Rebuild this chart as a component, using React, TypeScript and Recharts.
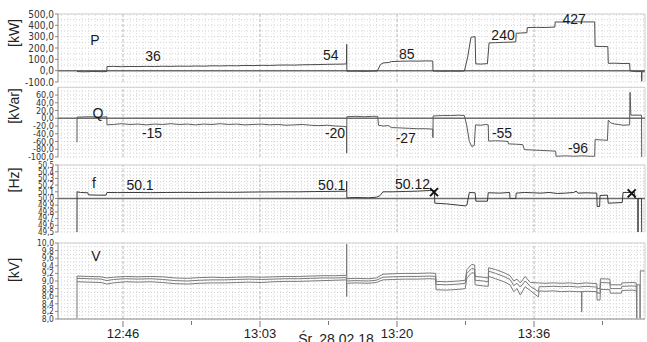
import React from 'react';
import { LineChart, Line, XAxis, YAxis, ReferenceLine, ReferenceDot } from 'recharts';

type Pt = [number, number];
type Note = [number, number, string];

// time axis in minutes since midnight
const T_MIN = 758.76;
const T_MAX = 830.17;
const timeTicks = [766.667, 775, 783.333, 791.667, 800, 808.333, 816.667, 825];
const timeLabels = ['12:46', '', '13:03', '', '13:20', '', '13:36', ''];
const dateLabel = 'Śr. 28.02.18';

const pTicks = [-100, 0, 100, 200, 300, 400, 500];
const qTicks = [-100, -80, -60, -40, -20, 0, 20, 40, 60];
const fTicks = [49.5, 49.6, 49.7, 49.8, 49.9, 50.0, 50.1, 50.2, 50.3, 50.4, 50.5];
const vTicks = [8.0, 8.2, 8.4, 8.6, 8.8, 9.0, 9.2, 9.4, 9.6, 9.8, 10.0];

// active power [kW]
const pSeries: Pt[] = [
  [761.07, -8], [762.0, -10], [763.0, -7], [764.0, -9], [764.7, -8], [764.72, 36], [765.5, 38], [766.5, 35],
  [767.5, 37], [768.5, 36], [769.5, 38], [770.5, 37], [771.5, 39], [772.5, 38], [773.5, 40], [774.5, 39],
  [775.5, 41], [776.5, 40], [777.5, 43], [778.5, 42], [779.5, 44], [780.5, 43], [781.5, 46], [782.5, 45],
  [783.5, 47], [784.5, 46], [785.5, 49], [786.5, 50], [787.5, 49], [788.5, 52], [789.5, 53], [790.5, 54],
  [791.5, 56], [792.5, 57], [793.5, 58], [793.85, 60], [793.88, 232], [793.9, -5], [795.0, -4], [796.0, -6],
  [797.0, -4], [797.6, -3], [798.0, 55], [798.3, 68], [799.0, 72], [799.3, 80], [800.4, 83], [801.5, 85],
  [802.5, 84], [803.5, 86], [804.35, 85], [804.38, -3], [805.5, -5], [806.5, -4], [807.5, -5], [808.2, -3],
  [808.6, 120], [809.0, 295], [809.5, 300], [809.58, 60], [810.2, 58], [811.0, 62], [811.2, 245], [812.0, 247],
  [813.0, 250], [814.0, 252], [814.45, 254], [814.5, 330], [815.0, 332], [815.8, 335], [815.85, 380], [817.0, 382],
  [818.0, 381], [819.2, 385], [819.25, 430], [820.5, 428], [822.0, 431], [823.0, 430], [824.05, 430], [824.1, 215],
  [825.0, 213], [825.65, 212], [825.7, 65], [826.5, 66], [827.5, 63], [828.3, 64], [828.35, -2], [829.0, -8],
  [829.75, -8], [829.77, -93], [829.8, -8], [830.1, -10],
];

// reactive power [kVar]
const qSeries: Pt[] = [
  [761.07, -62], [761.08, 3], [762.5, 4], [764.0, 3], [764.7, 4], [764.72, -17], [765.5, -16], [766.5, -14],
  [767.5, -16], [768.5, -15], [769.5, -17], [770.5, -15], [771.5, -16], [772.5, -14], [773.5, -16], [774.5, -15],
  [775.5, -17], [776.5, -15], [777.5, -16], [778.5, -14], [779.5, -16], [780.5, -15], [781.5, -17], [782.5, -16],
  [783.5, -15], [784.5, -17], [785.5, -16], [786.5, -18], [787.5, -17], [788.5, -16], [789.5, -18], [790.5, -19],
  [791.5, -18], [792.5, -20], [793.5, -21], [793.85, -22], [793.88, -90], [793.9, 4], [795.0, 5], [796.0, 4],
  [797.0, 5], [797.65, 5], [797.75, -18], [798.3, -20], [799.0, -19], [799.3, -24], [800.5, -25], [801.5, -26],
  [802.5, -27], [803.5, -27], [804.35, -28], [804.37, -50], [804.4, 6], [805.5, 7], [806.5, 7], [807.5, 8],
  [808.2, 7], [808.5, -20], [808.8, -60], [809.1, -73], [809.4, -70], [809.55, -17], [810.2, -18], [810.8, -16],
  [811.1, -17], [811.15, -59], [812.0, -58], [813.0, -59], [813.5, -60], [813.55, -66], [814.5, -67], [815.3, -68],
  [815.5, -81], [816.5, -82], [817.5, -83], [818.5, -84], [819.3, -85], [819.35, -98], [820.5, -97], [821.5, -98],
  [822.5, -97], [823.5, -98], [824.05, -98], [824.1, -55], [825.0, -56], [825.6, -57], [825.7, -5], [826.0, -12],
  [826.5, -15], [827.0, -16], [827.5, -18], [828.3, -17], [828.35, 67], [828.45, 8], [829.2, 8], [829.75, 8],
  [829.77, -100],
];

// frequency [Hz]
const fSeries: Pt[] = [
  [761.07, 49.5], [761.08, 50.1], [761.5, 50.09], [762.4, 50.085], [762.45, 50.055], [763.5, 50.05], [764.6, 50.05],
  [764.72, 50.09], [766.0, 50.088], [768.0, 50.09], [770.0, 50.087], [772.0, 50.09], [774.0, 50.092], [776.0, 50.09],
  [778.0, 50.094], [780.0, 50.092], [782.0, 50.096], [784.0, 50.098], [786.0, 50.1], [788.0, 50.1], [790.0, 50.104],
  [792.0, 50.106], [793.85, 50.11], [793.88, 50.26], [793.9, 50.01], [795.0, 50.015], [796.5, 50.01], [797.5, 50.02],
  [797.9, 50.04], [798.3, 50.1], [799.5, 50.1], [801.0, 50.105], [802.5, 50.11], [804.0, 50.12], [804.55, 50.12],
  [804.6, 49.93], [806.0, 49.92], [807.5, 49.9], [808.3, 49.89], [808.5, 49.9], [808.8, 50.09], [809.5, 50.085],
  [809.6, 49.96], [811.0, 49.96], [811.1, 50.086], [812.5, 50.08], [813.7, 50.09], [813.75, 50.0], [814.45, 50.0],
  [814.5, 50.08], [815.5, 50.09], [816.5, 50.085], [817.5, 50.08], [818.5, 50.09], [819.5, 50.075], [820.5, 50.08],
  [821.5, 50.09], [821.8, 50.11], [822.0, 50.08], [823.0, 50.085], [824.3, 50.08], [824.35, 49.88], [824.65, 49.88],
  [824.7, 50.045], [825.6, 50.05], [825.7, 49.93], [827.4, 49.94], [827.5, 50.09], [828.9, 50.09], [828.95, 50.0],
  [829.3, 50.0], [829.32, 49.5], [829.34, 50.0], [829.75, 50.0], [829.77, 49.5],
];

// phase voltages [kV]
const vaSeries: Pt[] = [
  [761.07, 8.02], [761.08, 9.13], [762.5, 9.12], [764.0, 9.11], [764.7, 9.08], [765.5, 9.1], [767.0, 9.12],
  [768.5, 9.11], [770.0, 9.12], [771.5, 9.11], [773.0, 9.08], [774.5, 9.07], [776.0, 9.09], [777.5, 9.1],
  [779.0, 9.09], [780.5, 9.1], [782.0, 9.11], [783.5, 9.1], [785.0, 9.11], [786.5, 9.12], [788.0, 9.12],
  [789.5, 9.13], [791.0, 9.14], [792.5, 9.14], [793.85, 9.15], [793.88, 9.97], [793.9, 9.06], [795.0, 9.07],
  [796.5, 9.06], [797.5, 9.08], [798.3, 9.18], [799.5, 9.19], [801.0, 9.2], [802.5, 9.2], [804.0, 9.21],
  [804.7, 9.2], [804.75, 8.99], [806.0, 8.98], [807.5, 9.0], [808.3, 9.02], [808.5, 9.3], [809.1, 9.44],
  [809.45, 9.42], [809.5, 9.12], [810.5, 9.1], [811.1, 9.08], [811.15, 9.35], [812.0, 9.3], [813.0, 9.22],
  [813.75, 9.14], [814.2, 9.0], [814.6, 9.05], [815.0, 8.95], [815.6, 9.12], [816.2, 8.96], [817.2, 8.95],
  [818.0, 8.94], [819.0, 8.95], [820.0, 8.94], [821.0, 8.95], [822.0, 8.93], [823.0, 8.95], [824.3, 8.93],
  [824.35, 8.8], [824.7, 8.8], [824.75, 9.06], [825.9, 9.05], [825.95, 8.9], [827.3, 8.9], [827.35, 8.95],
  [828.7, 8.96], [829.1, 8.95], [829.17, 8.02], [829.2, 8.9], [829.55, 8.9], [829.57, 8.02], [829.6, 9.27],
  [830.1, 9.26],
];
const vbSeries: Pt[] = [
  [761.08, 9.07], [762.5, 9.06], [764.0, 9.05], [764.7, 9.01], [765.5, 9.04], [767.0, 9.06], [768.5, 9.05],
  [770.0, 9.06], [771.5, 9.04], [773.0, 9.01], [774.5, 9.0], [776.0, 9.02], [777.5, 9.03], [779.0, 9.03],
  [780.5, 9.04], [782.0, 9.05], [783.5, 9.04], [785.0, 9.05], [786.5, 9.06], [788.0, 9.06], [789.5, 9.07],
  [791.0, 9.08], [792.5, 9.08], [793.85, 9.09], [793.9, 9.0], [795.0, 9.01], [796.5, 9.0], [797.5, 9.02],
  [798.3, 9.1], [799.5, 9.11], [801.0, 9.12], [802.5, 9.12], [804.0, 9.13], [804.7, 9.12], [804.75, 8.91],
  [806.0, 8.9], [807.5, 8.92], [808.3, 8.94], [808.5, 9.2], [809.1, 9.33], [809.45, 9.31], [809.5, 9.02],
  [810.5, 9.0], [811.1, 8.98], [811.15, 9.26], [812.0, 9.2], [813.0, 9.12], [813.75, 9.04], [814.2, 8.88],
  [814.6, 8.94], [815.0, 8.84], [815.6, 9.0], [816.2, 8.86], [817.2, 8.72], [817.3, 8.85], [818.0, 8.85],
  [819.0, 8.86], [820.0, 8.85], [821.0, 8.86], [822.0, 8.84], [823.0, 8.86], [824.3, 8.84], [824.35, 8.68],
  [824.7, 8.68], [824.75, 8.96], [825.9, 8.95], [825.95, 8.8], [827.3, 8.8], [827.35, 8.86], [828.7, 8.87],
  [829.1, 8.86],
];
const vcSeries: Pt[] = [
  [761.08, 8.98], [762.5, 8.97], [764.0, 8.96], [764.7, 8.92], [765.5, 8.95], [767.0, 8.98], [768.5, 8.97],
  [770.0, 8.98], [771.5, 8.96], [773.0, 8.93], [774.5, 8.92], [776.0, 8.94], [777.5, 8.95], [779.0, 8.95],
  [780.5, 8.96], [782.0, 8.97], [783.5, 8.96], [785.0, 8.98], [786.5, 8.99], [788.0, 8.99], [789.5, 9.0],
  [791.0, 9.01], [792.5, 9.02], [793.85, 9.03], [793.88, 8.59], [793.9, 8.94], [795.0, 8.95], [796.5, 8.94],
  [797.5, 8.96], [798.3, 9.03], [799.5, 9.04], [801.0, 9.05], [802.5, 9.05], [804.0, 9.06], [804.7, 9.05],
  [804.75, 8.77], [806.0, 8.76], [807.5, 8.78], [808.3, 8.8], [808.5, 9.08], [809.1, 9.22], [809.45, 9.2],
  [809.5, 8.9], [810.5, 8.87], [811.1, 8.86], [811.15, 9.12], [812.0, 9.06], [813.0, 8.98], [813.75, 8.9],
  [814.2, 8.72], [814.6, 8.8], [815.0, 8.63], [815.6, 8.85], [816.2, 8.75], [817.2, 8.58], [817.3, 8.74],
  [818.0, 8.73], [819.0, 8.74], [820.0, 8.72], [821.0, 8.73], [822.0, 8.72], [822.45, 8.72], [822.47, 8.19],
  [822.5, 8.72], [823.0, 8.73], [824.3, 8.72], [824.35, 8.5], [824.7, 8.5], [824.75, 8.78], [825.9, 8.77],
  [825.95, 8.68], [827.3, 8.68], [827.35, 8.75], [828.7, 8.76], [829.1, 8.74],
];

const pNotes: Note[] = [[763.26, 267, 'P'], [770.32, 126, '36'], [791.95, 134, '54'], [801.18, 150, '85'], [812.9, 312, '240'], [821.54, 455, '427']];
const qNotes: Note[] = [[763.63, 14, 'Q'], [770.2, -39, '-15'], [792.46, -39, '-20'], [801.07, -52, '-27'], [812.78, -39, '-55'], [822.02, -77, '-96']];
const fNotes: Note[] = [[763.14, 50.227, 'f'], [768.74, 50.2, '50.1'], [792.06, 50.2, '50.1'], [801.89, 50.223, '50.12']];
const fMarks: Pt[] = [[804.5, 50.095], [828.55, 50.076]];
const vNotes: Note[] = [[763.38, 9.66, 'V']];

const TICK_FONT = '"DejaVu Sans Condensed", "Liberation Sans Narrow", "DejaVu Sans", sans-serif';
const TEXT_FONT = '"Liberation Sans", "Open Sans", sans-serif';

const fmt = (v: number) => v.toFixed(1).replace('.', ',');
const rows = (pts: Pt[]) => pts.map(([t, v]) => ({ t, v }));

const minorX: number[] = [];
for (let t = 759.17; t < T_MAX; t += 0.8333) minorX.push(t);
const majorX = [766.667, 783.333, 800, 816.667];

const TimeTick = (props: any) => {
  const { x, y, payload } = props;
  const label = timeLabels[timeTicks.indexOf(payload.value)];
  return (
    <g>
      <line x1={x} x2={x} y1={y} y2={y + (label ? 6 : 4)} stroke="#777" />
      {label ? (
        <text x={x} y={y + 17} textAnchor="middle" fontSize={13} fill="#222" fontFamily={TEXT_FONT}>{label}</text>
      ) : null}
    </g>
  );
};

const NoteText = (text: string) => (p: any) => (
  <text x={p.cx} y={p.cy} textAnchor="middle" dominantBaseline="central" fontSize={14} fill="#1a1a1a" fontFamily={TEXT_FONT}>{text}</text>
);

const Cross = (p: any) => (
  <g stroke="#111" strokeWidth={2}>
    <line x1={p.cx - 4} y1={p.cy - 4} x2={p.cx + 4} y2={p.cy + 4} />
    <line x1={p.cx - 4} y1={p.cy + 4} x2={p.cx + 4} y2={p.cy - 4} />
  </g>
);

interface PanelProps {
  top: number;
  height: number;
  mt: number;
  mb: number;
  domain: [number, number];
  ticks: number[];
  tickSize: number;
  series: Pt[][];
  color: string;
  base?: number;
  notes: Note[];
  marks?: Pt[];
  showX?: boolean;
}

const Panel = ({ top, height, mt, mb, domain, ticks, tickSize, series, color, base, notes, marks = [], showX }: PanelProps) => {
  const step = (ticks[1] - ticks[0]) / 2;
  const minorY: number[] = [];
  for (let v = domain[0]; v <= domain[1] + 1e-9; v += step) minorY.push(v);
  return (
    <div style={{ position: 'absolute', left: 0, top }}>
      <LineChart width={647} height={height} margin={{ top: mt, right: 2, bottom: mb, left: 0 }}>
        <XAxis
          type="number"
          dataKey="t"
          domain={[T_MIN, T_MAX]}
          allowDataOverflow
          hide={!showX}
          ticks={timeTicks}
          interval={0}
          tick={<TimeTick />}
          tickLine={false}
          tickSize={0}
          height={showX ? 23 : 0}
          axisLine={{ stroke: '#888' }}
        />
        <YAxis
          type="number"
          domain={domain}
          ticks={ticks}
          interval={0}
          allowDataOverflow
          width={58}
          tickFormatter={fmt}
          tick={{ fontSize: tickSize, fill: '#333', fontFamily: TICK_FONT }}
          tickSize={3}
          tickMargin={1}
          axisLine={{ stroke: '#888' }}
          tickLine={{ stroke: '#888' }}
        />
        {minorY.map((v) => (
          <ReferenceLine key={'h' + v} y={v} stroke="#d2d2d2" strokeDasharray="1 2" />
        ))}
        {minorX.map((t) => (
          <ReferenceLine key={'v' + t} x={t} stroke="#dedede" strokeDasharray="1 2" />
        ))}
        {majorX.map((t) => (
          <ReferenceLine key={'m' + t} x={t} stroke="#bdbdbd" strokeDasharray="3 2" />
        ))}
        <ReferenceLine y={domain[1]} stroke="#cfcfcf" />
        <ReferenceLine x={T_MAX} stroke="#cfcfcf" />
        {base !== undefined && <ReferenceLine y={base} stroke="#6e6e6e" strokeWidth={1.5} />}
        {series.map((pts, i) => (
          <Line
            key={i}
            data={rows(pts)}
            dataKey="v"
            type="linear"
            stroke={color}
            strokeWidth={1}
            dot={false}
            isAnimationActive={false}
          />
        ))}
        {notes.map(([t, v, text]) => (
          <ReferenceDot key={text + t} x={t} y={v} r={0} shape={NoteText(text)} />
        ))}
        {marks.map(([t, v]) => (
          <ReferenceDot key={'x' + t} x={t} y={v} r={4} shape={Cross} />
        ))}
      </LineChart>
    </div>
  );
};

const unitStyle = (top: number): React.CSSProperties => ({
  position: 'absolute',
  left: 14,
  top,
  transform: 'translate(-50%, -50%) rotate(-90deg)',
  fontSize: 14,
  color: '#222',
  fontFamily: TEXT_FONT,
  whiteSpace: 'nowrap',
});

export default function App() {
  return (
    <div style={{ position: 'fixed', left: 0, top: 0, width: 647, height: 342, background: '#fff', overflow: 'hidden' }}>
      <Panel top={0} height={86} mt={14} mb={4} domain={[-100, 500]} ticks={pTicks} tickSize={10} series={[pSeries]} color="#4a4a4a" base={0} notes={pNotes} />
      <Panel top={86} height={75} mt={1.3} mb={4} domain={[-100, 80]} ticks={qTicks} tickSize={9} series={[qSeries]} color="#5a5a5a" base={0} notes={qNotes} />
      <Panel top={161} height={75} mt={4} mb={4} domain={[49.5, 50.5]} ticks={fTicks} tickSize={8} series={[fSeries]} color="#3a3a3a" base={50} notes={fNotes} marks={fMarks} />
      <Panel top={236} height={106} mt={7} mb={0} domain={[8, 10]} ticks={vTicks} tickSize={8.5} series={[vaSeries, vbSeries, vcSeries]} color="#7a7a7a" notes={vNotes} showX />
      <div style={unitStyle(33)}>[kW]</div>
      <div style={unitStyle(106)}>[kVar]</div>
      <div style={unitStyle(180)}>[Hz]</div>
      <div style={unitStyle(270)}>[kV]</div>
      <div
        style={{
          position: 'absolute',
          left: 336,
          top: 331,
          transform: 'translateX(-50%)',
          fontSize: 14,
          lineHeight: '16px',
          color: '#222',
          fontFamily: TEXT_FONT,
          whiteSpace: 'nowrap',
        }}
      >
        {dateLabel}
      </div>
    </div>
  );
}
